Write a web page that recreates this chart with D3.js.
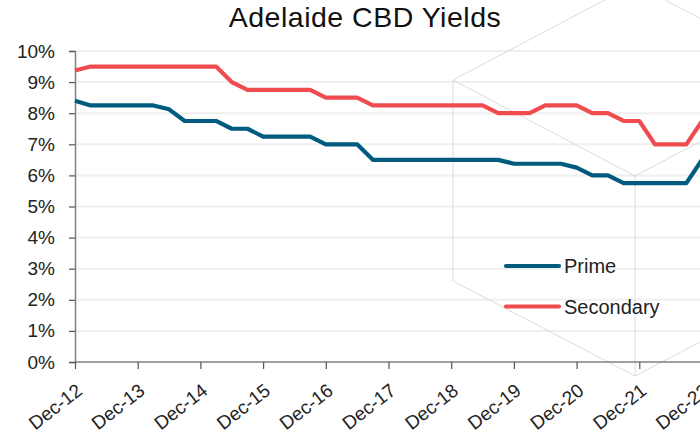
<!DOCTYPE html>
<html>
<head>
<meta charset="utf-8">
<script src="https://cdn.jsdelivr.net/npm/d3@7/dist/d3.min.js"></script>
<style>
  html, body { margin: 0; padding: 0; background: #fff; }
  svg { display: block; font-family: "Liberation Sans", Arial, sans-serif; }
</style>
</head>
<body>
<svg id="chart" width="700" height="435"></svg>
<script>
// Quarterly periods, Dec-12 through Dec-22
const quarters = [
  "Dec-12","Mar-13","Jun-13","Sep-13","Dec-13","Mar-14","Jun-14","Sep-14",
  "Dec-14","Mar-15","Jun-15","Sep-15","Dec-15","Mar-16","Jun-16","Sep-16",
  "Dec-16","Mar-17","Jun-17","Sep-17","Dec-17","Mar-18","Jun-18","Sep-18",
  "Dec-18","Mar-19","Jun-19","Sep-19","Dec-19","Mar-20","Jun-20","Sep-20",
  "Dec-20","Mar-21","Jun-21","Sep-21","Dec-21","Mar-22","Jun-22","Sep-22",
  "Dec-22"
];

// Yields (%)
const primeYield = [
  8.4, 8.25, 8.25, 8.25, 8.25, 8.25, 8.125, 7.75,
  7.75, 7.75, 7.5, 7.5, 7.25, 7.25, 7.25, 7.25,
  7.0, 7.0, 7.0, 6.5, 6.5, 6.5, 6.5, 6.5,
  6.5, 6.5, 6.5, 6.5, 6.375, 6.375, 6.375, 6.375,
  6.25, 6.0, 6.0, 5.75, 5.75, 5.75, 5.75, 5.75,
  6.5
];
const secondaryYield = [
  9.375, 9.5, 9.5, 9.5, 9.5, 9.5, 9.5, 9.5,
  9.5, 9.5, 9.0, 8.75, 8.75, 8.75, 8.75, 8.75,
  8.5, 8.5, 8.5, 8.25, 8.25, 8.25, 8.25, 8.25,
  8.25, 8.25, 8.25, 8.0, 8.0, 8.0, 8.25, 8.25,
  8.25, 8.0, 8.0, 7.75, 7.75, 7.0, 7.0, 7.0,
  7.75
];

const xTickLabels = ["Dec-12","Dec-13","Dec-14","Dec-15","Dec-16","Dec-17",
                     "Dec-18","Dec-19","Dec-20","Dec-21","Dec-22"];
const yTicks = [0, 1, 2, 3, 4, 5, 6, 7, 8, 9, 10];

const seriesNames = ["Prime", "Secondary"];
const seriesColors = ["#005b7f", "#f04c50"];

const svg = d3.select("#chart");
const W = 700, H = 435;
const margin = { left: 75, right: -2, top: 51, bottom: 73 };

const x = d3.scalePoint()
  .domain(quarters)
  .range([margin.left, W - margin.right]);

const y = d3.scaleLinear()
  .domain([0, 10])
  .range([H - margin.bottom, margin.top]);

// Title
svg.append("text")
  .attr("x", 365)
  .attr("y", 26.5)
  .attr("text-anchor", "middle")
  .attr("font-size", 28.5)
  .attr("letter-spacing", 0.5)
  .attr("fill", "#111")
  .text("Adelaide CBD Yields");

// Gridlines
svg.append("g")
  .selectAll("line")
  .data(yTicks.filter(d => d > 0))
  .join("line")
  .attr("x1", margin.left)
  .attr("x2", W)
  .attr("y1", d => y(d))
  .attr("y2", d => y(d))
  .attr("stroke", "#efefef")
  .attr("stroke-width", 2);

// Decorative cube outline
const cx = 635, cy = 176, dx = 182, dy = 96, edge = 200;
const cube = svg.append("g")
  .attr("fill", "none")
  .attr("stroke", "#dadada")
  .attr("stroke-width", 1);
const cTop = [cx, cy - 2 * dy];
const cTl = [cx - dx, cy - dy];
const cTr = [cx + dx, cy - dy];
const cBl = [cx - dx, cy - dy + edge + 1];
const cBr = [cx + dx, cy - dy + edge + 1];
const cBottom = [cx, cy + edge];
const cCenter = [cx, cy];
cube.append("path").attr("d", d3.line()([cTop, cTr, cBr, cBottom, cBl, cTl, cTop]));
cube.append("path").attr("d", d3.line()([cTl, cCenter, cTr]));
cube.append("path").attr("d", d3.line()([cCenter, cBottom]));

// Y axis
const yAxis = svg.append("g")
  .attr("transform", `translate(${margin.left},0)`)
  .call(d3.axisLeft(y).tickValues(yTicks).tickFormat(d => d + "%").tickSize(6).tickPadding(14));
yAxis.select(".domain").attr("stroke", "#808080").attr("stroke-width", 1.5);
yAxis.selectAll(".tick line").attr("stroke", "#555").attr("stroke-width", 1.2);
yAxis.selectAll(".tick text")
  .attr("font-size", 19)
  .attr("fill", "#222")
  .attr("font-family", "Liberation Sans, Arial, sans-serif");

// X axis
const xAxis = svg.append("g")
  .attr("transform", `translate(0,${H - margin.bottom})`)
  .call(d3.axisBottom(x).tickValues(xTickLabels).tickSize(7).tickSizeOuter(0));
xAxis.select(".domain").attr("stroke", "#808080").attr("stroke-width", 1.5)
  .attr("d", `M${margin.left},0H${W}`);
xAxis.selectAll(".tick line").attr("stroke", "#555").attr("stroke-width", 1.2);
xAxis.selectAll(".tick text")
  .attr("font-size", 19)
  .attr("fill", "#222")
  .attr("font-family", "Liberation Sans, Arial, sans-serif")
  .attr("text-anchor", "end")
  .attr("dy", null)
  .attr("transform", "translate(8,31) rotate(-38)")
  .attr("y", 0)
  .attr("x", 0);

// Series lines
const series = [primeYield, secondaryYield];
const line = d3.line()
  .x((d, i) => x(quarters[i]))
  .y(d => y(d));

svg.append("g")
  .selectAll("path")
  .data(series)
  .join("path")
  .attr("fill", "none")
  .attr("stroke", (d, i) => seriesColors[i])
  .attr("stroke-width", 4.2)
  .attr("stroke-linejoin", "round")
  .attr("d", line);

// Legend
const legend = svg.append("g")
  .selectAll("g")
  .data(seriesNames)
  .join("g")
  .attr("transform", (d, i) => `translate(506,${266 + i * 40.5})`);
legend.append("line")
  .attr("x1", 0).attr("x2", 53)
  .attr("stroke", (d, i) => seriesColors[i])
  .attr("stroke-width", 4.2)
  .attr("stroke-linecap", "round");
legend.append("text")
  .attr("x", 58)
  .attr("y", 7)
  .attr("font-size", 20)
  .attr("fill", "#222")
  .text(d => d);
</script>
</body>
</html>
